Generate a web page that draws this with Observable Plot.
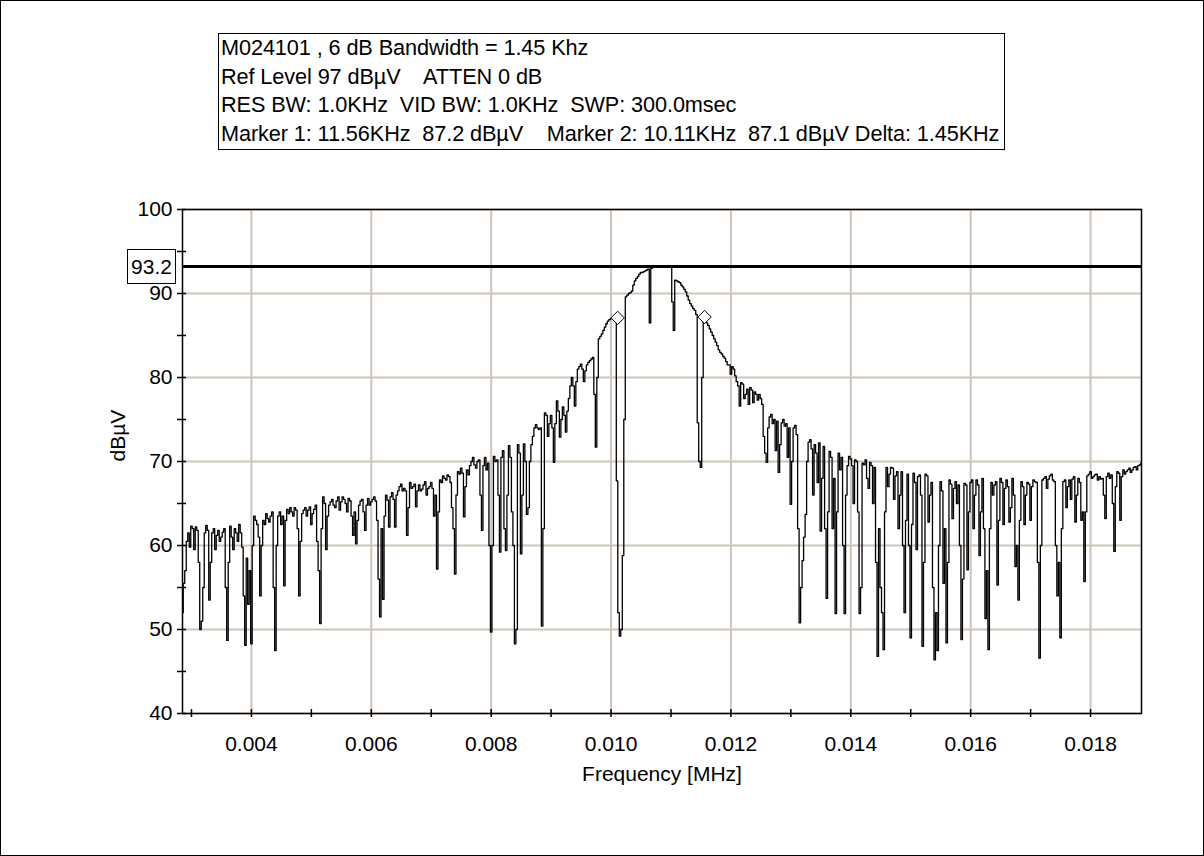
<!DOCTYPE html>
<html>
<head>
<meta charset="utf-8">
<script src="https://cdn.jsdelivr.net/npm/d3@7"></script>
<script src="https://cdn.jsdelivr.net/npm/@observablehq/plot@0.6"></script>
<style>
  body { margin: 0; background: #fff; }
  #page { position: relative; width: 1204px; height: 856px; overflow: hidden; background: #fff;
          font-family: "Liberation Sans", Arial, sans-serif; color: #000; }
  #page svg { position: absolute; left: 0; top: 0; }
  #border { position: absolute; left: 0; top: 0; width: 1204px; height: 856px; box-sizing: border-box;
            border: 1px solid #000; pointer-events: none; }
  #info { position: absolute; left: 218px; top: 33px; width: 787px; height: 117px; box-sizing: border-box;
          border: 1px solid #000; background: #fff; font-size: 21.7px; line-height: 28.5px; padding: 0 0 0 2px;
          white-space: pre; letter-spacing: -0.1px; }
  #refbox { position: absolute; left: 127px; width: 49px; height: 35px; box-sizing: border-box;
            border: 1px solid #000; background: #fff; font-size: 21px; text-align: center; line-height: 33px; }
</style>
</head>
<body>
<div id="page"></div>
<script>
// Sweep settings of the analyzer trace (frequency in MHz)
const sweepStartMHz = 0.00285;
const sweepStepMHz = 0.000025;

// Measured level of each sweep point, dBµV
const levels = [
  52,55.5, 57,60.5, 61.5,59.8, 62.3,62, 59.5,62.2, 61.8,58, 50,51, 55,61.5, 62.4,61.8, 53.5,58,
  61.5,62, 59.5,61.2, 61.8,60.5, 61,61.6, 62,55, 48.7,58, 62.3,61, 59.5,62, 61.5,60.5, 62.5,61.5,
  59.8,54, 48.1,58.5, 53,57, 48.3,60, 63.5,63, 62.5,61, 54,60, 63,62.5, 63.8,63.2, 62.8,63.5,
  64,55, 47.5,60, 63.5,64, 62.5,63.5, 55.2,63, 64.3,63.8, 64.5,64, 63.5,64.5, 64.2,62, 54,60.5,
  63.8,64.2, 64.5,63.5, 64.2,64.6, 62.5,63.8, 64.3,64.8, 60.5,57, 50.7,62, 65.8,65, 59.5,63.5, 64.8,65.2,
  65.5,64.8, 64.5,65.3, 65.8,64.2, 65.2,65.8, 65.5,65, 64,65.6, 65.3,63.5, 61.2,64, 60.2,63, 64.8,65.3,
  65.5,64, 61.8,64.8, 65.6,64.8, 65.2,65.5, 65.8,65.3, 63,56, 51.5,62, 53.6,63.5, 66,65.4, 62.2,65.8,
  66.3,65.5, 62.2,66, 66.5,67, 67.3,66.5, 66.8,66.5, 61.2,64.5, 67.5,66.8, 67,67.3, 64.6,66.5, 67.2,66.5,
  66.7,67.2, 67.6,66, 66.8,67, 67.5,66.8, 63.5,66, 57.2,64, 67.8,67.5, 68.3,68, 67.8,68.4, 68.2,67.5,
  64.5,62, 56.6,66, 68.8,68.5, 69.2,68.6, 63.4,67, 69,68.4, 69.5,70, 70.5,69.6, 69.2,70, 70.2,66,
  61.8,69.5, 70.5,69, 69.8,60, 49.7,60, 70.6,70, 70.2,66, 59.2,70.5, 71.3,62, 59.4,66, 71.9,70.5,
  64,60, 48.3,50, 72,71, 59,66, 72.1,70, 63.7,64.5, 70,72, 73,74, 74.4,74, 73.8,74,
  50.4,62, 75.8,75.5, 73,74.5, 75.5,74, 69.9,74.5, 77.2,76, 72.9,75, 76.5,75.5, 73.5,76, 77.5,79,
  80,79, 76.6,79.5, 81,81.3, 81.6,81, 79.5,80.8, 81.5,81.8, 82,82.2, 82.4,78, 71.7,80, 84.6,84.9,
  85.2,85.6, 86,86.4, 86.7,86.9, 87,87.1, 87.1,87, 67.7,52, 49.2,50, 58.8,75, 89.6,89.8, 90,90.1,
  90.3,91, 91.5,91.8, 92,92.3, 92.5,92.5, 92.6,92.7, 92.8,92.9, 86.5,93, 93.2,93.2, 93.2,93.1, 93.1,93.2,
  93.2,93.2, 93.2,93.2, 93.2,93.2, 93.2,89, 85.6,91.6, 91.5,91.4, 91.3,91, 90.8,90.5, 90.2,89.7, 89.2,88.8,
  88.5,88.2, 88,87.5, 74.6,70, 69.3,80, 87.2,86.8, 86.5,86.2, 85.8,85.4, 85,84.6, 84.2,83.8, 83.3,83,
  82.8,82.5, 82.3,81.9, 81.5,81.5, 80.4,81.3, 81,80.2, 79.5,79, 76.6,79.4, 79.2,77.5, 78,78.6, 76.8,78.8,
  78.5,77, 78.3,78, 77.3,78, 77.5,76.8, 73,71, 69.9,74, 75.3,75.6, 74.5,75, 71.3,74.8, 68.7,72,
  74.6,75, 74.2,74.5, 70.5,74, 64.9,70, 74,74.3, 73.2,62, 50.8,55, 58.2,61, 63.7,70, 72.3,72.6,
  71.5,66, 72,71, 67.5,72.2, 61.7,68, 71.8,62, 53.7,64, 71.2,70.5, 62,68, 51.9,64, 71,69,
  70.5,60, 51.9,66, 69.5,70.6, 70.3,69.5, 65,70.2, 70,64, 51.9,55, 69.8,69.6, 70.2,68, 66.8,69.9,
  69.5,65, 69.3,58, 46.8,62, 55,52, 47.6,64, 69.3,67, 68.5,69.3, 69.2,65.5, 68.3,68.8, 62,66,
  68.8,60, 52,63, 68.5,60, 49,62.5, 68.6,67.5, 59.5,68.2, 68.4,66, 48,58, 68.5,68.3, 62.8,66,
  67.5,55, 46.4,52, 47.5,60, 67.6,66.5, 55.5,62, 48.4,58, 67.8,67.3, 63.2,66.8, 67.6,65, 67.2,60,
  48.8,56, 67.4,67.2, 57.1,64, 67.5,67.8, 62,66, 67.8,67.2, 58.8,64, 68,62, 51.3,57, 47.6,62,
  67.5,66, 67.2,67.6, 55.3,63, 68,67.5, 62.5,66.8, 67.8,67, 62.8,64.5, 68,66, 57.5,60, 53.5,63,
  67.6,67, 62.5,66, 67.5,67.3, 63,67, 67.8,67.6, 67.5,58, 46.6,60, 67.8,68, 68.2,66.8, 67.9,68.3,
  68.5,67.8, 67.6,60, 54,58, 49,62, 67.6,67.8, 64.5,67, 67.8,65.5, 67.9,68.2, 62.8,66, 68,67.5,
  63,64, 55.7,64, 68.3,68.5, 68.8,68, 68.2,68.4, 68.5,67.8, 68.2,67.9, 68,66, 63.2,68.2, 68.6,68,
  68.4,65, 59.3,67, 68.8,68.6, 63,68.2, 69,68.5, 68.8,69, 69.2,68.7, 69,69.3, 69.4,69, 69.5,69.6, 69.8
];

// Markers (MHz, dBµV)
const markerNames = ["Marker 1", "Marker 2"];
const markerFreqs = [0.01156, 0.01011];
const markerLevels = [87.2, 87.1];

// Peak reference line, dBµV
const peakLevel = 93.2;

// Axes
const xDomain = [0.00285, 0.01885];
const yDomain = [40, 100];
const xLabelTicks = [0.004, 0.006, 0.008, 0.010, 0.012, 0.014, 0.016, 0.018];
const xMinorTicks = [0.003, 0.004, 0.005, 0.006, 0.007, 0.008, 0.009, 0.010, 0.011, 0.012, 0.013, 0.014, 0.015, 0.016, 0.017, 0.018];
const yLabelTicks = [40, 50, 60, 70, 80, 90, 100];
const yMinorTicks = [40, 45, 50, 55, 60, 65, 70, 75, 80, 85, 90, 95, 100];

// Header text lines
const infoLines = [
  "M024101 , 6 dB Bandwidth = 1.45 Khz",
  "Ref Level 97 dBµV    ATTEN 0 dB",
  "RES BW: 1.0KHz  VID BW: 1.0KHz  SWP: 300.0msec",
  "Marker 1: 11.56KHz  87.2 dBµV    Marker 2: 10.11KHz  87.1 dBµV Delta: 1.45KHz"
];

const trace = levels.map((v, i) => ({f: sweepStartMHz + i * sweepStepMHz, dB: v}));
const markers = markerNames.map((name, i) => ({name, f: markerFreqs[i], dB: markerLevels[i]}));
const gridColor = "#cfc4b9";

const plot = Plot.plot({
  width: 1204,
  height: 856,
  marginLeft: 182,
  marginRight: 63,
  marginTop: 209,
  marginBottom: 143,
  x: {domain: xDomain},
  y: {domain: yDomain},
  style: {fontFamily: "'Liberation Sans', Arial, sans-serif", fontSize: "21px", color: "#000", background: "transparent"},
  marks: [
    Plot.gridX(xLabelTicks, {stroke: gridColor, strokeOpacity: 1, strokeWidth: 2}),
    Plot.gridY(yLabelTicks, {stroke: gridColor, strokeOpacity: 1, strokeWidth: 2}),
    Plot.frame({stroke: "#000", strokeWidth: 1.5}),
    Plot.ruleX(xMinorTicks, {x: d => d, y1: yDomain[0], y2: yDomain[0], insetTop: -4, insetBottom: -4, stroke: "#000", strokeWidth: 1.5}),
    Plot.ruleY(yMinorTicks, {y: d => d, x1: xDomain[0], x2: xDomain[0], insetLeft: -5, insetRight: -4, stroke: "#000", strokeWidth: 1.5}),
    Plot.axisX({ticks: xLabelTicks, tickSize: 0, tickPadding: 23, tickFormat: d3.format(".3f"), label: null}),
    Plot.axisY({ticks: yLabelTicks, tickSize: 0, tickPadding: 10, label: null}),
    Plot.line(trace, {x: "f", y: "dB", curve: "step", stroke: "#000", strokeWidth: 1.3}),
    Plot.ruleY([peakLevel], {stroke: "#000", strokeWidth: 3}),
    Plot.dot(markers, {x: "f", y: "dB", symbol: "diamond2", r: 6, fill: "#fff", stroke: "#000", strokeWidth: 1}),
    Plot.text(["Frequency [MHz]"], {frameAnchor: "bottom", dy: 67, fontSize: 21}),
    Plot.text(["dBµV"], {frameAnchor: "left", dx: -64, rotate: -90, fontSize: 21})
  ]
});

const page = document.getElementById("page");
page.appendChild(plot);

// Header box with the instrument settings
const info = document.createElement("div");
info.id = "info";
info.textContent = infoLines.join("\n");
page.appendChild(info);

// Value box for the peak line, placed on the y scale
const refBox = document.createElement("div");
refBox.id = "refbox";
refBox.textContent = d3.format(".1f")(peakLevel);
refBox.style.top = (plot.scale("y").apply(peakLevel) - 17.5) + "px";
page.appendChild(refBox);

const border = document.createElement("div");
border.id = "border";
page.appendChild(border);
</script>
</body>
</html>
